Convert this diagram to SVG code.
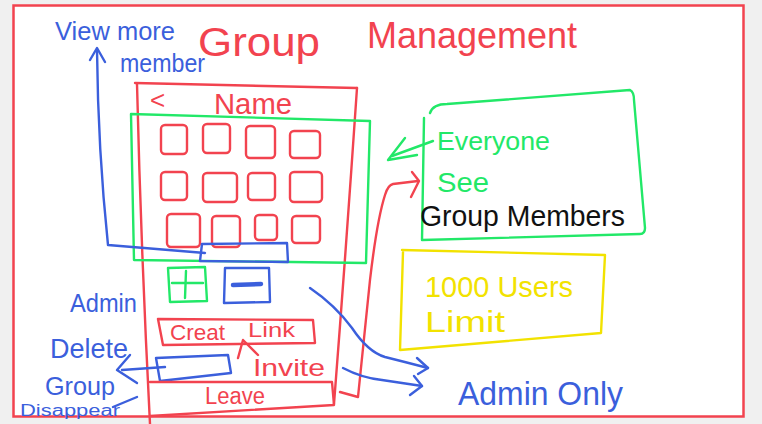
<svg xmlns="http://www.w3.org/2000/svg" width="762" height="424" viewBox="0 0 762 424">
<style>
.s{fill:none;stroke-width:2.4;stroke-linecap:round;stroke-linejoin:round}
.r{stroke:#f2434f}.g{stroke:#22e868}.b{stroke:#3b5fdc}.y{stroke:#f2e200}.k{stroke:#111}
.t{font-family:"Liberation Sans","DejaVu Sans",sans-serif}
.tr{fill:#f2434f}.tg{fill:#22e868}.tb{fill:#3b5fdc}.ty{fill:#f2e200}.tk{fill:#111}
</style>
<rect x="0" y="0" width="762" height="424" fill="#f0f0f0"/>
<rect x="13.5" y="5.5" width="730" height="411" fill="#fff" stroke="#f2434f" stroke-width="2.5"/>

<g id="title">
<text class="t tr" x="198" y="56" font-size="40" textLength="122" lengthAdjust="spacingAndGlyphs">Group</text>
<text class="t tr" x="367" y="48" font-size="36" textLength="210" lengthAdjust="spacingAndGlyphs">Management</text>
</g>

<g id="view-more">
<text class="t tb" x="55" y="40" font-size="26" textLength="120" lengthAdjust="spacingAndGlyphs">View more</text>
<text class="t tb" x="120" y="72" font-size="26" textLength="85" lengthAdjust="spacingAndGlyphs">member</text>
</g>

<g id="phone">
<path class="s r" d="M135,83 L357,88"/>
<path class="s r" d="M137,84 Q141,250 150,424"/>
<path class="s r" d="M357,88 Q346,250 334,404"/>
<text class="t tr" x="150" y="109" font-size="26">&lt;</text>
<text class="t tr" x="214" y="114" font-size="30" textLength="78" lengthAdjust="spacingAndGlyphs">Name</text>
</g>

<g id="member-grid">
<path class="s g" d="M131,114 L370,121 L366,263 L134,260 Z"/>
<g class="s r">
<rect x="161" y="125" width="26" height="29" rx="4"/>
<rect x="203" y="124" width="27" height="29" rx="4"/>
<rect x="246" y="126" width="29" height="32" rx="4"/>
<rect x="290" y="131" width="30" height="27" rx="4"/>
<rect x="161" y="172" width="26" height="28" rx="4"/>
<rect x="203" y="173" width="34" height="29" rx="4"/>
<rect x="248" y="173" width="27" height="27" rx="4"/>
<rect x="290" y="172" width="32" height="30" rx="4"/>
<rect x="167" y="214" width="33" height="33" rx="4"/>
<rect x="212" y="216" width="28" height="31" rx="4"/>
<rect x="255" y="215" width="22" height="25" rx="4"/>
<rect x="292" y="216" width="28" height="27" rx="4"/>
</g>
</g>

<g id="view-more-button">
<path class="s b" d="M202,244 L287,243 L288,262 L200,261 Z"/>
</g>

<g id="add-button">
<path class="s g" d="M168,268 L205,267 L207,301 L170,302 Z"/>
<path class="s g" d="M186,271 L185,298 M172,283 L203,283"/>
</g>

<g id="remove-button">
<path class="s b" d="M225,268 L269,268 L270,302 L224,303 Z"/>
<path d="M233,285 L261,284" fill="none" stroke="#3b5fdc" stroke-width="4.5" stroke-linecap="round"/>
</g>

<g id="admin-label">
<text class="t tb" x="70" y="312" font-size="26" textLength="67" lengthAdjust="spacingAndGlyphs">Admin</text>
</g>

<g id="create-link">
<path class="s r" d="M158,319 L313,320 L315,343 L163,345 Z"/>
<text class="t tr" x="170" y="340" font-size="22" textLength="55" lengthAdjust="spacingAndGlyphs">Creat</text>
<text class="t tr" x="248" y="337" font-size="20" textLength="47" lengthAdjust="spacingAndGlyphs">Link</text>
<path class="s r" d="M238,358 L243,340 L258,355"/>
<text class="t tr" x="253" y="376" font-size="24" textLength="72" lengthAdjust="spacingAndGlyphs">Invite</text>
</g>

<g id="delete-button">
<path class="s b" d="M156,358 L228,355 L231,373 L160,381 Z"/>
</g>

<g id="delete-label">
<text class="t tb" x="50" y="358" font-size="28" textLength="78" lengthAdjust="spacingAndGlyphs">Delete</text>
</g>

<g id="group-disappear">
<text class="t tb" x="45" y="395" font-size="25" textLength="70" lengthAdjust="spacingAndGlyphs">Group</text>
<text class="t tb" x="20" y="416" font-size="16" textLength="100" lengthAdjust="spacingAndGlyphs">Disappear</text>
</g>

<g id="leave">
<path class="s r" d="M150,382 L332,382 L334,405 L150,416"/>
<text class="t tr" x="205" y="404" font-size="23" textLength="60" lengthAdjust="spacingAndGlyphs">Leave</text>
</g>

<g id="members-box">
<path class="s g" d="M430,113 Q433,104 447,104 L630,90 Q634,92 634,100 L645,228 Q645,234 640,234 L422,240 L424,118"/>
<text class="t tg" x="437" y="150" font-size="26" textLength="113" lengthAdjust="spacingAndGlyphs">Everyone</text>
<text class="t tg" x="437" y="192" font-size="28" textLength="52" lengthAdjust="spacingAndGlyphs">See</text>
<text class="t tk" x="420" y="226" font-size="30" textLength="205" lengthAdjust="spacingAndGlyphs">Group Members</text>
</g>

<g id="limit-box">
<path class="s y" d="M402,250 L605,255 L601,333 L400,350 L403,252"/>
<text class="t ty" x="425" y="297" font-size="30" textLength="148" lengthAdjust="spacingAndGlyphs">1000 Users</text>
<text class="t ty" x="425" y="332" font-size="30" textLength="80" lengthAdjust="spacingAndGlyphs">Limit</text>
</g>

<g id="admin-only">
<text class="t tb" x="458" y="405" font-size="34" textLength="165" lengthAdjust="spacingAndGlyphs">Admin Only</text>
</g>

<g id="connectors">
<path class="s b" d="M97,50 Q98,150 108,245 L205,253"/>
<path class="s b" d="M90,60 L97,48 L105,62"/>
<path class="s r" d="M340,392 L358,397 Q365,330 370,280 Q377,220 385,195 Q388,185 393,184 L418,181"/>
<path class="s r" d="M412,172 L419,181 L411,197"/>
<path class="s g" d="M433,141 L392,156"/>
<path class="s g" d="M405,138 L388,160 L417,155"/>
<path class="s b" d="M310,288 Q335,305 352,328 Q368,352 385,357 Q405,362 428,368"/>
<path class="s b" d="M417,358 L428,368 L418,374"/>
<path class="s b" d="M343,368 Q362,378 382,380 L422,386"/>
<path class="s b" d="M414,376 L422,386 L410,395"/>
<path class="s b" d="M165,367 L122,370"/>
<path class="s b" d="M130,355 L117,370 L137,383"/>
<path class="s b" d="M137,397 L113,407"/>
</g>
</svg>
